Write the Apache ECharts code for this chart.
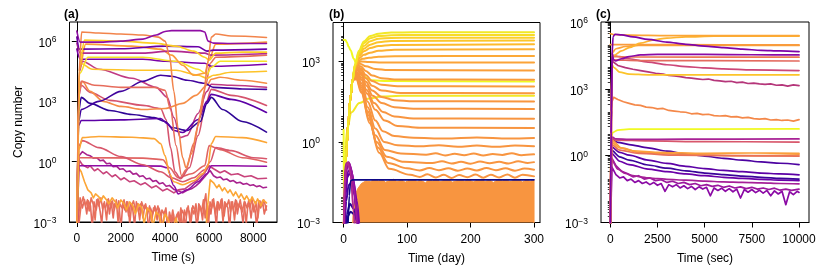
<!DOCTYPE html>
<html><head><meta charset="utf-8">
<script src="https://cdn.jsdelivr.net/npm/echarts@6/dist/echarts.min.js"></script>
<style>html,body{margin:0;padding:0;background:#fff}#c{width:830px;height:277px}</style>
</head><body><div id="c"></div><script>
// ---------- tick labels ----------
const yMajorExp = [-3, 0, 3, 6];
const aXTicks = [0, 2000, 4000, 6000, 8000];
const bXTicks = [0, 100, 200, 300];
const cXTicks = [0, 2500, 5000, 7500, 10000];
const panelLabels = ['(a)', '(b)', '(c)'];
const xNames = ['Time (s)', 'Time (day)', 'Time (sec)'];
const yName = 'Copy number';

// ---------- data: [time, log10(copy number)] ----------
// Panel (a)
const a01 = [[0,6.5],[150,5.95],[1000,5.95],[2000,6.0],[3000,6.1],[3600,6.3],[4000,6.48],[4300,6.52],[5600,6.52],[5800,6.45],[5950,6.0],[6200,5.9],[7000,5.88],[8600,5.88]];
const a02 = [[0,-4],[100,4.5],[220,6.45],[1000,6.4],[2000,6.35],[3000,6.3],[3700,6.2],[4000,6.0],[4200,5.3],[4400,3.5],[4600,1.6],[4800,0.2],[4950,-0.3],[5200,0.4],[5500,1.8],[5750,3.4],[5950,5.0],[6100,6.2],[6300,6.35],[7000,6.25],[8600,6.18]];
const a03 = [[0,-4],[120,4.8],[350,6.05],[2000,6.0],[3500,5.9],[4500,5.75],[5300,5.5],[5800,5.2],[6000,5.05],[6300,5.4],[7500,5.45],[8600,5.45]];
const a04 = [[0,6.2],[120,5.6],[2000,5.62],[4000,5.75],[5500,5.72],[5900,5.5],[6200,5.55],[8600,5.6]];
const a05 = [[0,5.9],[150,5.4],[3000,5.4],[4200,5.5],[5800,5.4],[6100,5.3],[8600,5.38]];
const a06 = [[0,-4],[120,4.6],[400,5.85],[2500,5.75],[3800,5.6],[4300,5.3],[4800,4.8],[5300,4.3],[5800,4.4],[6000,5.1],[6300,5.85],[8600,5.95]];
const a07 = [[0,-4],[140,4.4],[500,5.2],[3000,5.2],[4500,5.0],[5500,4.6],[5900,4.35],[6100,4.7],[6500,5.0],[8600,5.0]];
const a08 = [[0,-4],[160,4.9],[700,4.6],[3000,4.55],[4500,4.55],[5500,4.3],[5900,4.15],[6200,4.3],[7000,4.45],[8600,4.5]];
const a09 = [[0,5.6],[150,5.1],[3000,5.1],[4000,5.0],[5800,4.9],[6100,4.75],[8600,4.85]];
const a10 = [[0,-4],[100,3.5],[200,4.0],[800,3.8],[2000,3.7],[3500,3.7],[4000,3.55],[4250,2.6],[4500,0.8],[4750,-0.7],[4950,-0.4],[5300,0.9],[5600,2.3],[5850,3.8],[6050,4.9],[6300,5.2],[8600,5.3]];
const a11 = [[0,-4],[80,2.0],[200,2.6],[1000,3.0],[2000,3.5],[3000,4.0],[3800,4.3],[4300,4.25],[5000,4.05],[5800,3.9],[6200,3.7],[7500,3.62],[8600,3.6]];
const a12 = [[0,-4],[80,1.8],[200,2.05],[2000,2.08],[3800,2.15],[4100,1.9],[4400,1.55],[4800,1.45],[5500,2.1],[5900,3.0],[6100,3.35],[7000,3.1],[8600,2.45]];
const a13 = [[0,-4],[80,2.5],[200,3.2],[600,2.9],[1500,2.55],[2500,2.35],[3500,2.2],[4000,2.0],[4300,1.7],[5000,1.55],[5600,2.0],[5900,2.9],[6100,3.2],[6600,2.6],[7500,2.0],[8600,1.47]];
const a14 = [[0,-4],[100,3.5],[250,4.0],[600,3.5],[1200,3.0],[2000,2.75],[3000,2.6],[4000,2.65],[4800,2.9],[5400,3.3],[5900,3.8],[6100,4.1],[6500,4.2],[7500,4.05],[8600,3.9]];
const a15 = [[0,-4],[100,3.3],[200,3.8],[600,3.45],[1500,3.05],[3000,2.8],[3800,2.65],[4050,2.1],[4250,0.7],[4450,-0.5],[4700,-0.85],[5100,-0.3],[5500,1.3],[5850,2.9],[6100,3.6],[7000,3.3],[8600,2.8]];
const a16 = [[0,-4],[120,4.5],[250,5.0],[1000,4.6],[2500,4.15],[3600,3.7],[4100,3.2],[4400,2.2],[4700,1.2],[5000,1.3],[5500,2.4],[5900,3.5],[6100,3.85],[7000,3.8],[8600,3.7]];
const a17 = [[0,-4],[100,0.6],[250,1.2],[1000,1.25],[2500,1.22],[3500,1.15],[3800,0.9],[4000,0.3],[4200,-0.6],[4400,-1.0],[4800,-1.15],[5300,-0.95],[5700,-0.6],[5950,-0.2],[6100,0.9],[6300,1.25],[7500,1.2],[8600,0.95]];
const a18 = [[0,-4],[100,0.8],[250,1.05],[1000,0.7],[2000,0.25],[3000,-0.15],[3800,-0.5],[4300,-0.8],[4800,-1.0],[5300,-0.8],[5800,-0.4],[6050,0.0],[6300,0.7],[7000,0.55],[8000,0.2],[8600,0.15]];
const a19 = [[0,-4],[100,0.2],[300,0.2],[3000,0.18],[3900,0.1],[4200,-0.3],[4600,-0.8],[5200,-0.6],[5800,-0.2],[6000,0.8],[6500,0.6],[7500,0.2],[8600,-0.03]];
const a20 = [[0,-4],[80,-0.2],[2000,-0.2],[3800,-0.22],[4100,-0.3],[4400,-1.2],[4600,-1.6],[5000,-1.4],[5500,-1.0],[5900,-0.6],[6100,-0.2],[7000,-0.2],[8600,-0.23]];
const a21 = [[0,-4],[100,0.1],[250,-0.15],[500,-0.3],[600,-0.2],[800,-0.45],[950,-0.35],[1200,-0.6],[1350,-0.5],[1600,-0.75],[1750,-0.65],[2000,-0.9],[2150,-0.8],[2400,-1.0],[2600,-0.95],[2900,-1.15],[3100,-1.05],[3400,-1.3],[3600,-1.2],[3900,-1.45],[4100,-1.35],[4400,-1.55],[4600,-1.4],[4900,-1.35],[5200,-1.1],[5500,-0.9],[5800,-0.55],[6000,-0.2],[6200,-0.35],[6500,-0.55],[6700,-0.45],[7000,-0.65],[7300,-0.6],[7600,-0.75],[7900,-0.7],[8200,-0.85],[8600,-0.82]];
const a22 = [[0,-4],[100,0.3],[250,0.5],[450,0.35],[600,0.3],[750,0.18],[900,0.2],[1050,0.05],[1200,0.08],[1350,-0.1],[1500,-0.08],[1650,-0.25],[1800,-0.22],[1950,-0.38],[2100,-0.35],[2250,-0.5],[2400,-0.46],[2550,-0.62],[2700,-0.58],[2850,-0.74],[3000,-0.7],[3150,-0.86],[3300,-0.82],[3450,-0.98],[3600,-0.94],[3750,-1.1],[3900,-1.05],[4050,-1.22],[4200,-1.18],[4400,-1.38],[4600,-1.45],[4800,-1.55],[5000,-1.42],[5200,-1.35],[5400,-1.2],[5600,-1.0],[5800,-0.75],[5950,-0.55],[6050,-0.45],[6200,-0.7],[6350,-0.8],[6500,-0.76],[6650,-0.9],[6800,-0.86],[6950,-0.98],[7100,-0.94],[7250,-1.06],[7400,-1.02],[7550,-1.12],[7700,-1.08],[7850,-1.18],[8000,-1.15],[8150,-1.24],[8300,-1.2],[8450,-1.3],[8600,-1.27]];
const a23 = [[0,-4],[80,-0.3],[200,-0.5],[350,-1.0],[500,-1.4],[650,-1.55],[750,-1.8],[850,-1.6],[1000,-1.75],[1100,-1.95],[1200,-1.7],[1350,-1.9],[1450,-2.1],[1600,-1.8],[1750,-2.0],[1850,-2.3],[2000,-1.9],[2150,-2.1],[2250,-2.4],[2400,-2.0],[2550,-2.2],[2650,-2.6],[2800,-2.1],[2950,-2.3],[3050,-3.1],[3200,-2.3],[3350,-2.5],[3450,-3.2],[3600,-2.5],[3750,-2.7],[3850,-3.3],[4000,-2.6],[4150,-2.9],[4300,-3.5],[4500,-2.8],[4650,-3.6],[4700,-4]];
const a24 = [[5800,-4],[5950,-2.0],[6050,-0.9],[6200,-1.05],[6350,-1.3],[6450,-1.15],[6600,-1.45],[6700,-1.3],[6850,-1.55],[6950,-1.4],[7100,-1.7],[7200,-1.5],[7350,-1.8],[7450,-1.6],[7600,-1.9],[7700,-1.7],[7850,-2.0],[7950,-1.75],[8100,-2.1],[8200,-1.85],[8350,-2.2],[8450,-1.9],[8600,-2.05]];
const a25 = [[0,-4],[150,-1.8],[250,-2.3],[350,-1.9],[450,-2.6],[520,-1.95],[620,-2.2],[700,-3.3],[780,-2.0],[880,-2.4],[960,-1.85],[1060,-2.5],[1130,-3.1],[1200,-2.1],[1300,-2.3],[1400,-1.9],[1480,-2.6],[1560,-2.0],[1650,-2.8],[1720,-2.1],[1820,-2.3],[1900,-1.95],[2000,-3.4],[2080,-2.1],[2180,-2.4],[2260,-2.0],[2350,-2.7],[2430,-2.1],[2530,-2.3],[2620,-3.2],[2700,-2.0],[2800,-2.5],[2900,-2.1],[3000,-2.8],[3080,-2.2],[3180,-2.4],[3260,-3.5],[3340,-2.3],[3440,-2.6],[3540,-2.2],[3640,-2.9],[3720,-2.3],[3820,-2.7],[3900,-3.3],[3980,-2.5],[4080,-2.8],[4150,-3.6],[4230,-2.7],[4300,-3.1],[4380,-2.6],[4460,-3.5],[4520,-2.8],[4600,-2.5],[4680,-3.2],[4760,-2.4],[4850,-2.6],[4920,-3.4],[5000,-2.3],[5100,-2.5],[5180,-3.0],[5260,-2.2],[5360,-2.4],[5450,-3.3],[5530,-2.1],[5620,-2.3],[5700,-2.9],[5780,-2.0],[5850,-1.6],[5920,-3.0],[6000,-2.2],[6080,-2.6],[6150,-1.9],[6250,-2.4],[6330,-3.2],[6400,-2.0],[6500,-2.3],[6580,-1.85],[6680,-2.7],[6750,-2.1],[6850,-2.3],[6930,-3.4],[7000,-2.0],[7100,-2.4],[7200,-1.9],[7280,-2.6],[7360,-2.1],[7460,-2.4],[7540,-3.1],[7620,-2.0],[7720,-2.3],[7800,-1.9],[7900,-2.8],[7980,-2.1],[8080,-2.4],[8160,-3.3],[8240,-2.0],[8340,-2.3],[8420,-1.95],[8500,-2.6],[8600,-2.2]];
const a26 = [[0,-4],[200,-2.1],[290,-1.75],[400,-2.2],[480,-1.9],[560,-2.45],[650,-1.8],[740,-2.1],[830,-2.9],[900,-1.9],[1000,-2.2],[1090,-1.8],[1170,-2.35],[1250,-2.0],[1350,-2.9],[1430,-1.85],[1520,-2.2],[1610,-1.95],[1700,-2.4],[1790,-1.9],[1870,-3.0],[1950,-2.1],[2050,-2.3],[2140,-1.9],[2230,-2.5],[2310,-2.0],[2400,-3.1],[2480,-2.2],[2570,-1.95],[2660,-2.4],[2750,-2.1],[2850,-2.9],[2940,-2.0],[3030,-2.3],[3120,-2.1],[3210,-2.6],[3300,-2.2],[3390,-3.0],[3480,-2.3],[3580,-2.5],[3680,-2.2],[3780,-3.2],[3860,-2.4],[3950,-2.6],[4040,-2.3],[4120,-3.4],[4200,-2.5],[4280,-2.9],[4350,-2.4],[4430,-3.0],[4550,-2.6],[4640,-2.9],[4720,-2.3],[4800,-3.5],[4880,-2.4],[4960,-2.7],[5050,-2.2],[5140,-3.1],[5220,-2.3],[5310,-2.6],[5400,-2.1],[5490,-2.9],[5570,-2.2],[5660,-2.5],[5740,-1.9],[5820,-2.8],[5900,-2.1],[5970,-3.2],[6040,-2.0],[6120,-2.3],[6200,-1.85],[6290,-2.6],[6370,-2.0],[6460,-2.4],[6540,-1.9],[6630,-3.0],[6710,-2.0],[6800,-2.2],[6890,-1.9],[6970,-2.5],[7060,-2.0],[7150,-2.9],[7240,-1.95],[7320,-2.3],[7410,-1.9],[7500,-2.5],[7590,-2.0],[7680,-3.1],[7760,-2.1],[7850,-2.3],[7940,-1.85],[8030,-2.5],[8120,-2.0],[8210,-2.8],[8300,-1.95],[8390,-2.2],[8480,-1.9],[8600,-2.4]];
const aLines = [a25,a26,a23,a24,a22,a21,a20,a19,a18,a17,a16,a15,a14,a13,a12,a11,a10,a09,a08,a07,a06,a05,a04,a03,a02,a01];

// Panel (b)
const bBand = [[13,-4],[15,-2.6],[18,-2.0],[22,-1.75],[28,-1.55],[35,-1.45],[42,-1.48],[48,-1.4],[55,-1.45],[61,-1.41],[66,-1.5],[73,-1.43],[79,-1.39],[84,-1.47],[92,-1.42],[97,-1.5],[103,-1.43],[110,-1.4],[116,-1.47],[121,-1.42],[129,-1.52],[134,-1.41],[140,-1.45],[147,-1.39],[152,-1.48],[160,-1.42],[166,-1.4],[171,-1.5],[178,-1.44],[185,-1.39],[190,-1.46],[198,-1.41],[204,-1.49],[211,-1.42],[217,-1.39],[223,-1.47],[230,-1.42],[236,-1.51],[243,-1.4],[250,-1.45],[256,-1.39],[262,-1.48],[269,-1.42],[275,-1.39],[282,-1.49],[288,-1.42],[294,-1.46],[300,-1.41],[300,-4]];
const bRamp = [[0,-4],[1,-2.2],[3,-0.9],[5,-0.1],[8,0.9],[11,1.7],[14,2.3]];
const b01 = [[18,2.9],[24,3.4],[32,3.75],[42,3.95],[55,4.04],[75,4.08],[110,4.09],[300,4.09]];
const b02 = [[18,2.88],[24,3.35],[32,3.68],[42,3.87],[55,3.95],[75,3.98],[110,3.99],[300,3.99]];
const b03 = [[18,2.86],[24,3.3],[32,3.58],[42,3.76],[55,3.85],[75,3.88],[110,3.89],[300,3.89]];
const b04 = [[18,2.84],[24,3.25],[32,3.48],[42,3.63],[55,3.72],[75,3.77],[300,3.78]];
const b05 = [[18,2.82],[24,3.2],[32,3.38],[42,3.5],[55,3.58],[75,3.62],[300,3.64]];
const b06 = [[18,2.8],[24,3.12],[32,3.25],[42,3.33],[55,3.4],[80,3.44],[300,3.46]];
const b07 = [[18,2.78],[24,3.05],[30,3.1],[40,3.14],[55,3.18],[80,3.2],[300,3.21]];
const b08 = [[18,2.76],[24,2.98],[28,3.0],[40,2.98],[60,2.96],[300,2.96]];
const b09 = [[18,2.74],[22,2.9],[26,2.92],[35,2.82],[50,2.72],[70,2.68],[300,2.67]];
const b10 = [[18,2.72],[22,2.85],[27,2.82],[35,2.65],[45,2.48],[60,2.38],[80,2.33],[300,2.32]];
const b11 = [[18,2.7],[22,2.8],[27,2.75],[35,2.5],[45,2.27],[60,2.13],[85,2.08],[300,2.07]];
const b12 = [[18,2.68],[22,2.76],[27,2.68],[35,2.38],[45,2.1],[60,1.92],[90,1.83],[300,1.82]];
const b13 = [[18,2.66],[22,2.72],[27,2.6],[35,2.25],[45,1.92],[60,1.68],[80,1.56],[110,1.52],[300,1.51]];
const b14 = [[18,2.64],[22,2.68],[28,2.5],[36,2.1],[46,1.72],[60,1.45],[80,1.3],[110,1.24],[300,1.23]];
const b15 = [[17,2.55],[21,2.62],[28,2.4],[36,1.95],[48,1.45],[62,1.12],[80,0.95],[110,0.88],[300,0.87]];
const b16 = [[17,2.52],[21,2.58],[28,2.32],[37,1.8],[50,1.2],[65,0.8],[85,0.6],[120,0.53],[300,0.52]];
const b17 = [[17,2.5],[21,2.54],[28,2.2],[38,1.5],[50,0.8],[62,0.4],[80,0.22],[110,0.16],[160,0.13],[210,0.17],[260,0.13],[300,0.15]];
const b18 = [[16,2.4],[20,2.5],[28,2.12],[38,1.3],[50,0.5],[64,0.0],[85,-0.12],[120,-0.16],[150,-0.12],[180,-0.18],[210,-0.13],[240,-0.18],[270,-0.13],[300,-0.16]];
const b19 = [[16,2.38],[20,2.46],[28,2.05],[38,1.15],[50,0.25],[65,-0.3],[90,-0.43],[130,-0.47],[145,-0.42],[160,-0.5],[175,-0.44],[190,-0.49],[205,-0.43],[220,-0.5],[235,-0.45],[250,-0.48],[265,-0.42],[280,-0.49],[300,-0.46]];
const b20 = [[16,2.36],[20,2.42],[28,1.98],[39,1.0],[52,0.0],[68,-0.55],[95,-0.74],[140,-0.78],[155,-0.72],[170,-0.8],[185,-0.74],[200,-0.81],[215,-0.73],[230,-0.79],[245,-0.74],[260,-0.8],[275,-0.72],[290,-0.78],[300,-0.75]];
const b21 = [[16,2.34],[20,2.38],[28,1.9],[40,0.85],[54,-0.2],[70,-0.78],[100,-0.98],[120,-1.06],[135,-0.97],[150,-1.05],[165,-0.98],[180,-1.07],[195,-0.99],[210,-1.06],[225,-0.97],[240,-1.05],[255,-0.98],[270,-1.07],[285,-0.99],[300,-1.03]];
const b22 = [[16,2.32],[20,2.34],[28,1.84],[41,0.7],[56,-0.4],[72,-1.0],[105,-1.22],[120,-1.3],[132,-1.2],[145,-1.32],[158,-1.22],[170,-1.34],[182,-1.23],[195,-1.31],[208,-1.21],[220,-1.33],[232,-1.22],[245,-1.32],[258,-1.21],[270,-1.33],[282,-1.22],[300,-1.28]];
const bLines = [b22,b21,b20,b19,b18,b17,b16,b15,b14,b13,b12,b11,b10,b09,b08,b07,b06,b05,b04,b03,b02,b01];
const bY1 = [[0,3.81],[3,3.8],[5,3.72],[8,3.55],[11,3.42],[16,3.1],[22,2.75],[30,2.45],[45,2.3],[70,2.27],[300,2.26]];
const bY2 = [[0,-4],[2,-0.4],[6,0.5],[12,1.1],[25,1.45],[40,1.62],[60,1.7],[90,1.72],[300,1.72]];
const bY3 = [[0,0.46],[0.3,-0.53],[0.6,-4]];
const bP1 = [[1,-4],[4,-2.2],[8,-1.6],[13,-1.5],[18,-2.0],[24,-4]];
const bP2 = [[0,-4],[3,-1.8],[7,-1.1],[11,-1.0],[16,-1.5],[22,-3],[25,-4]];
const bP3 = [[0,-4],[2,-1.7],[5,-1.0],[9,-0.8],[14,-1.2],[20,-2.4],[24,-4]];
const bP4 = [[2,-4],[5,-2.7],[10,-2.3],[16,-2.5],[22,-3.0],[26,-4]];
const bP5 = [[0,-4],[1.5,-1.6],[4,-0.9],[7,-0.75],[11,-1.2],[16,-2.6],[19,-4]];
const bP6 = [[1,-4],[3,-2.0],[6,-1.3],[10,-1.15],[15,-1.6],[21,-2.6],[25,-4]];
const bP7 = [[0.5,-4],[2.5,-1.4],[6,-0.85],[10,-0.9],[15,-1.4],[21,-2.2],[27,-4]];
const bP8 = [[3,-4],[6,-2.8],[11,-2.6],[17,-2.7],[24,-3.1],[28,-4]];
const bP9 = [[0,-4],[1.5,-1.3],[4,-0.8],[8,-0.75],[12,-1.0],[18,-2.0],[22,-4]];
const bNavy = [[0,-4],[6,-3.5],[9,-2.0],[11,-1.45],[14,-1.41],[300,-1.41]];
const bPurples = [bP8,bP4,bP1,bP6,bP2,bP7,bP3,bP9,bP5];

// Panel (c)
const c01 = [[0,-4],[40,1.0],[90,4.5],[150,5.35],[250,5.45],[600,5.42],[1200,5.33],[2000,5.22],[3000,5.1],[4000,5.0],[5000,4.92],[6000,4.85],[7000,4.78],[8000,4.73],[9000,4.7],[10000,4.67]];
const c02 = [[0,-4],[60,2],[100,4.6],[180,4.3],[280,4.25],[600,4.35],[1000,4.45],[1600,4.52],[2500,4.55],[5000,4.55],[7500,4.53],[10000,4.52]];
const c03 = [[0,5.48],[150,5.44],[1000,5.41],[3000,5.39],[6000,5.39],[10000,5.39]];
const c04 = [[0,-4],[80,4.3],[200,4.5],[600,4.7],[1000,4.85],[1600,5.05],[2300,5.2],[3000,5.28],[4000,5.33],[5500,5.36],[7500,5.37],[10000,5.37]];
const c05 = [[0,4.98],[3000,4.98],[10000,4.97]];
const c06 = [[0,-4],[80,4.6],[300,4.8],[800,4.9],[1500,4.95],[10000,4.95]];
const c07 = [[0,-4],[90,4.45],[1000,4.43],[10000,4.42]];
const c08 = [[0,-4],[90,4.3],[1500,4.27],[10000,4.25]];
const c09 = [[0,-4],[90,4.5],[500,4.45],[1000,4.35],[2000,4.2],[3000,4.08],[4000,4.0],[5000,3.94],[6000,3.9],[7500,3.85],[10000,3.82]];
const c10 = [[0,-4],[80,4.1],[200,3.95],[500,3.75],[1000,3.66],[2000,3.63],[10000,3.63]];
const c11 = [[0,-4],[90,4.25],[400,4.05],[800,3.95],[1200,3.88],[1600,3.82],[2000,3.76],[2400,3.7],[2800,3.66],[3100,3.6],[3400,3.58],[3700,3.55],[4000,3.5],[4300,3.48],[4600,3.45],[4900,3.42],[5200,3.44],[5500,3.38],[5800,3.36],[6100,3.32],[6400,3.34],[6700,3.28],[7000,3.3],[7300,3.24],[7600,3.26],[7900,3.22],[8200,3.2],[8500,3.22],[8800,3.16],[9100,3.18],[9400,3.12],[9700,3.18],[10000,3.14]];
const c12 = [[0,-4],[80,2.4],[180,2.62],[400,2.52],[700,2.42],[1000,2.35],[1300,2.28],[1600,2.26],[1900,2.18],[2200,2.16],[2500,2.1],[2800,2.12],[3100,2.03],[3400,2.0],[3700,1.97],[4000,1.95],[4300,1.88],[4600,1.9],[4900,1.84],[5200,1.86],[5500,1.8],[5800,1.78],[6100,1.8],[6400,1.74],[6700,1.75],[7000,1.7],[7300,1.72],[7600,1.66],[7900,1.64],[8200,1.66],[8500,1.6],[8800,1.62],[9100,1.58],[9400,1.6],[9700,1.55],[10000,1.62]];
const c13 = [[0,-4],[50,0.85],[150,1.05],[400,1.15],[1000,1.19],[10000,1.2]];
const c14 = [[0,-4],[80,0.85],[300,0.75],[1000,0.73],[4000,0.74],[10000,0.75]];
const c15 = [[0,-4],[80,0.8],[300,0.7],[2000,0.66],[5000,0.63],[10000,0.61]];
const c16 = [[0,-4],[80,0.6],[500,0.35],[1200,0.22],[2500,0.15],[5000,0.1],[7500,0.12],[10000,0.1]];
const c17 = [[0,-4],[80,0.5],[500,0.25],[1500,0.1],[3500,0.02],[6000,0.0],[10000,-0.02]];
const c18 = [[0,-4],[80,0.7],[600,0.35],[1500,0.15],[4000,0.05],[7000,0.0],[10000,0.04]];
const c19 = [[0,-4],[60,0.75],[400,0.6],[1000,0.5],[2000,0.35],[3000,0.2],[4000,0.08],[5000,-0.02],[6000,-0.12],[7000,-0.2],[8000,-0.28],[9000,-0.34],[10000,-0.4]];
const c20 = [[0,-4],[60,0.4],[500,0.15],[1000,0.02],[2000,-0.2],[3000,-0.35],[4000,-0.48],[5000,-0.58],[6000,-0.66],[7000,-0.72],[8000,-0.78],[9000,-0.82],[10000,-0.86]];
const c21 = [[0,-4],[60,0.25],[500,-0.05],[1000,-0.2],[2000,-0.42],[3000,-0.56],[4000,-0.68],[5000,-0.78],[6000,-0.85],[7000,-0.92],[8000,-0.97],[9000,-1.02],[10000,-1.05]];
const c22 = [[0,-4],[60,0.1],[500,-0.25],[1000,-0.4],[2000,-0.6],[3000,-0.72],[4000,-0.82],[5000,-0.9],[6000,-0.97],[7000,-1.02],[8000,-1.06],[9000,-1.1],[10000,-1.12]];
const c23 = [[0,-4],[80,-0.1],[300,-0.45],[600,-0.7],[900,-0.8],[1200,-0.95],[1500,-0.9],[1800,-1.05],[2100,-1.0],[2400,-1.12],[2700,-1.08],[3000,-1.2],[3300,-1.15],[3600,-1.25],[3900,-1.2],[4200,-1.3],[4500,-1.25],[4800,-1.35],[5100,-1.3],[5400,-1.38],[5700,-1.33],[6000,-1.42],[6300,-1.36],[6600,-1.45],[6900,-1.4],[7200,-1.48],[7500,-1.42],[7800,-1.5],[8100,-1.45],[8400,-1.52],[8700,-1.46],[9000,-1.55],[9300,-1.5],[9600,-1.56],[10000,-1.5]];
const c24 = [[0,-4],[80,-0.5],[300,-0.85],[500,-1.0],[700,-0.95],[900,-1.12],[1100,-1.05],[1300,-1.2],[1500,-1.12],[1700,-1.25],[1900,-1.18],[2100,-1.3],[2300,-1.2],[2500,-1.33],[2700,-1.25],[2900,-1.6],[3100,-1.3],[3300,-1.4],[3500,-1.3],[3700,-1.45],[3900,-1.35],[4100,-1.48],[4300,-1.38],[4500,-1.52],[4700,-1.4],[4900,-1.5],[5100,-1.42],[5300,-1.8],[5500,-1.45],[5700,-1.56],[5900,-1.46],[6100,-1.6],[6300,-1.48],[6500,-1.62],[6700,-1.5],[6900,-1.9],[7100,-1.52],[7300,-1.64],[7500,-1.52],[7700,-1.66],[7900,-1.55],[8100,-1.68],[8300,-1.56],[8500,-1.8],[8700,-1.58],[8900,-1.72],[9100,-1.6],[9300,-2.2],[9500,-1.62],[9700,-1.75],[9900,-1.6],[10000,-1.65]];
const c25 = [[0,-4],[80,-0.2],[400,-0.6],[800,-0.8],[1200,-0.9],[1600,-0.95],[2000,-1.0],[2500,-1.03],[3000,-1.06],[4000,-1.1],[5000,-1.14],[6000,-1.18],[7000,-1.2],[8000,-1.22],[9000,-1.25],[10000,-1.27]];
const cLines = [c24,c23,c25,c22,c21,c20,c19,c18,c17,c16,c15,c14,c13,c12,c11,c10,c09,c08,c07,c06,c05,c04,c03,c02,c01];

// ---------- styles (kept apart from data) ----------
const aColors = ['#e56b5d','#e8705b','#fca636','#fca636','#a8228f','#c8437b','#8f0da4','#e16462','#d8576b','#fca636','#c03a83','#d5546e','#f58c46','#2f0596','#5c01a6','#41049d','#e66c5c','#7a02a8','#fdc328','#f6e128','#fb9b3a','#b12a90','#6a00a8','#fcce25','#f2844b','#8f0da4'];
const aNoisy = [true,true,true,true,true,true,false,false,false,false,false,false,false,false,false,false,false,false,false,false,false,false,false,false,false,false];
const bColors = ['#f89540','#f89540','#f89540','#f89540','#f89540','#f89540','#f89540','#f89540','#f89540','#f8963f','#f9983e','#f99a3d','#f99c3c','#fa9f3a','#fba338','#fca937','#fcb033','#fdba2c','#fcc52a','#fbd02a','#f7dc27','#f2e826'];
const bPurpleColors = ['#1b068d','#2c0594','#41049d','#5c01a6','#6a00a8','#7a02a8','#8f0da4','#9c179e','#b12a90'];
const cColors = ['#8b0aa5','#9c179e','#a62098','#6a00a8','#3b049a','#5c01a6','#4c02a1','#f89540','#e97158','#fb9f3a','#d8576b','#a82296','#f0f921','#f48849','#b5367a','#fcc42a','#cc4778','#e36a5f','#ec7853','#fba238','#f99b3d','#fdb42f','#fca636','#8b0aa5','#7e03a8'];
const cNoisy = [true,true,false,false,false,false,false,false,false,false,false,false,false,true,true,false,false,false,false,false,false,false,false,false,false];

const FONT = '"Liberation Sans", Arial, Helvetica, sans-serif';

function toValues(pts) { return pts.map(p => [p[0], Math.pow(10, p[1])]); }
function lineSeries(pts, color, idx, width, smooth, z) {
  return { type: 'line', xAxisIndex: idx, yAxisIndex: idx,
    data: toValues(pts), symbol: 'none', showSymbol: false, silent: true, animation: false,
    smooth: smooth, smoothMonotone: 'x', clip: true, z: z || 2,
    lineStyle: { color: color, width: width, join: 'round', cap: 'round' } };
}

const majorVals = yMajorExp.map(e => Math.pow(10, e));
function expLabel(v) {
  const e = Math.round(Math.log10(v));
  return '{b|10}{e|' + (e < 0 ? '\u2212' + (-e) : e) + '}';
}
const richY = { b: { fontSize: 12, fontFamily: FONT, color: '#000', verticalAlign: 'bottom' },
                e: { fontSize: 8.5, fontFamily: FONT, color: '#000', verticalAlign: 'top', lineHeight: 14 } };

const grids = [
  { left: 69.5, top: 22, width: 207.5, height: 200 },
  { left: 333, top: 22.5, width: 207, height: 200 },
  { left: 601, top: 22, width: 208, height: 200.5 }
];
const xRanges = [[-332, 9077], [-16.7, 309.4], [-491, 10528]];
const yMaxExp = [6.95, 4.455, 6];
const xTicks = [aXTicks, bXTicks, cXTicks];

const xAxes = grids.map((g, i) => ({
  type: 'value', gridIndex: i, min: xRanges[i][0], max: xRanges[i][1],
  name: xNames[i], nameLocation: 'middle', nameGap: 30,
  nameTextStyle: { fontSize: 12, color: '#000', fontFamily: FONT },
  axisLine: { show: true, onZero: false, lineStyle: { color: '#000', width: 1 } },
  axisTick: { show: true, length: 5, customValues: xTicks[i], lineStyle: { color: '#000', width: 1 } },
  axisLabel: { customValues: xTicks[i], margin: 11, fontSize: 12, color: '#000', fontFamily: FONT, formatter: v => String(v) },
  splitLine: { show: false }
}));

const yAxes = grids.map((g, i) => Object.assign({
  type: 'log', logBase: 10, gridIndex: i, position: 'left', min: 1e-3, max: Math.pow(10, yMaxExp[i]),
  axisLine: { show: true, lineStyle: { color: '#000', width: 1 } },
  axisTick: { show: true, length: 5, customValues: majorVals, lineStyle: { color: '#000', width: 1 } },
  minorTick: { show: i > 0, splitNumber: 9, length: 2.5, lineStyle: { color: '#000', width: 0.8 } },
  axisLabel: { customValues: majorVals, margin: 13, formatter: expLabel, rich: richY, padding: [3, 0, 0, 0] },
  splitLine: { show: false }, minorSplitLine: { show: false }
}, i === 0 ? { name: yName, nameLocation: 'middle', nameGap: 45, nameTextStyle: { fontSize: 12, color: '#000', fontFamily: FONT } } : {}));

const series = [];
aLines.forEach((pts, k) => series.push(lineSeries(pts, aColors[k], 0, 1.6, aNoisy[k] ? false : 0.3)));
series.push(Object.assign(lineSeries(bBand, '#f89540', 1, 1, false, 1), { areaStyle: { color: '#f89540', opacity: 1, origin: 'start' } }));
series.push(lineSeries(bY2, '#f2e826', 1, 2, 0.35));
series.push(lineSeries(bY1, '#f0f921', 1, 2, 0.35));
bLines.forEach((pts, k) => series.push(lineSeries(bRamp.concat(pts), bColors[k], 1, 2, 0.35)));
series.push(lineSeries(bY3, '#f0f921', 1, 2, false));
bPurples.forEach((pts, k) => series.push(lineSeries(pts, bPurpleColors[k], 1, 2, 0.3, 3)));
series.push(lineSeries(bNavy, '#0d0887', 1, 1.6, 0.2, 4));
cLines.forEach((pts, k) => series.push(lineSeries(pts, cColors[k], 2, 1.7, cNoisy[k] ? false : 0.3)));

const titles = panelLabels.map((t, i) => ({ text: t, left: [64, 329, 596][i], top: 9, padding: 0,
  textStyle: { fontSize: 12, fontWeight: 'bold', color: '#000', fontFamily: FONT } }));

const chart = echarts.init(document.getElementById('c'), null, { renderer: 'canvas' });
chart.setOption({
  animation: false, backgroundColor: '#fff',
  title: titles,
  grid: grids.map(g => Object.assign({ show: true, borderColor: '#000', borderWidth: 1, backgroundColor: 'transparent', containLabel: false }, g)),
  xAxis: xAxes, yAxis: yAxes, series: series
});
</script></body></html>
